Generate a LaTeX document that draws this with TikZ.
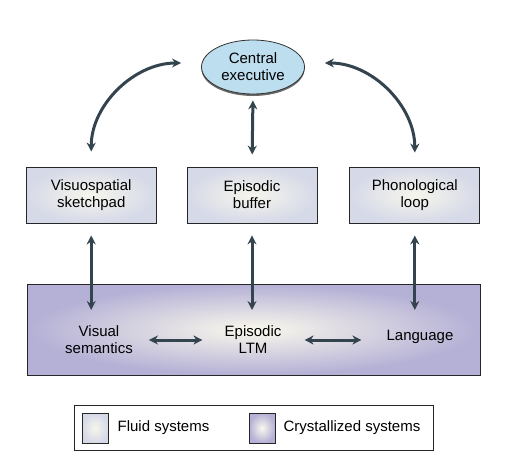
\documentclass[tikz,border=0pt]{standalone}
\usepackage{fontspec}
\setmainfont{Liberation Sans}
\usepackage{xcolor}
\usepackage{tikz}
\usetikzlibrary{arrows.meta, positioning, shadows, shapes.geometric}

\definecolor{fluidout}{RGB}{214,218,232}
\definecolor{fluidin}{RGB}{246,245,236}
\definecolor{crystout}{RGB}{180,176,214}
\definecolor{crystin}{RGB}{250,248,236}
\definecolor{execfill}{RGB}{188,222,238}
\definecolor{arrowcol}{RGB}{52,68,78}

\begin{document}
\begin{tikzpicture}[
x=1pt, y=1pt,
font=\fontsize{15}{17}\selectfont,
fluid/.style={rectangle, draw=black!85, line width=0.8pt, inner color=fluidin, outer color=fluidout, align=center, minimum width=130pt, minimum height=56pt},
crystal/.style={rectangle, draw=black!85, line width=0.8pt, inner color=crystin, outer color=crystout},
exec/.style={ellipse, draw=black!80, line width=0.8pt, fill=execfill, align=center, minimum width=103pt, minimum height=54pt, inner sep=0pt, drop shadow={shadow xshift=0pt, shadow yshift=-2pt, fill=black!65, opacity=0.9}},
txt/.style={align=center, inner sep=0pt},
dbl/.style={{Stealth[length=9pt,width=9pt]}-{Stealth[length=9pt,width=9pt]}, line width=3pt, draw=arrowcol}
]
\useasboundingbox (0,0) rectangle (510,461);

% working memory
\node[exec] (exec) at (253,394) {Central\\executive};
\node[fluid] (buffer) at (252,266) {Episodic\\buffer};
\node[fluid, left=30pt of buffer] (visuo) {Visuospatial\\sketchpad};
\node[fluid, right=32pt of buffer] (phono) {Phonological\\loop};

% long-term memory
\node[crystal, minimum width=453pt, minimum height=91pt] (ltm) at (253.5,131.5) {};
\node[txt] (semantic) at (99,121) {Visual\\semantics};
\node[txt] (episodic) at (253,121) {Episodic\\LTM};
\node[txt] (lang) at (420,124) {Language};

\draw[dbl] ([shift={(-20pt,4pt)}]exec.west) to[out=180, in=90, looseness=0.95] ([yshift=15pt]visuo.north);
\draw[dbl] ([shift={(20pt,4pt)}]exec.east) to[out=0, in=90, looseness=0.95] ([yshift=14pt]phono.north);
\draw[dbl, shorten <=6pt, shorten >=12pt] (exec.south) -- (buffer.north);

\draw[dbl, shorten <=12pt, shorten >=19.5pt] (visuo.south) -- (visuo.south |- ltm.center);
\draw[dbl, shorten <=12pt, shorten >=19.5pt] (buffer.south) -- (buffer.south |- ltm.center);
\draw[dbl, shorten <=12pt, shorten >=19.5pt] (phono.south) -- (phono.south |- ltm.center);

\draw[dbl, shorten <=16pt, shorten >=22pt] (semantic.east) -- (semantic.east -| episodic.west);
\draw[dbl, shorten <=23pt, shorten >=25pt] (episodic.east) -- (episodic.east -| lang.west);

% key
\node[draw=black!85, line width=0.8pt, minimum width=359pt, minimum height=45pt] (key) at (253.5,33.5) {};
\node[fluid, minimum width=26pt, minimum height=30pt] (fluidkey) at (95,33) {};
\node[right=9pt of fluidkey, inner sep=0pt] (fluidtxt) {Fluid systems};
\node[crystal, minimum width=26pt, minimum height=30pt] (crystkey) at (262,33) {};
\node[right=8pt of crystkey, inner sep=0pt] (crysttxt) {Crystallized systems};

\end{tikzpicture}
\end{document}
